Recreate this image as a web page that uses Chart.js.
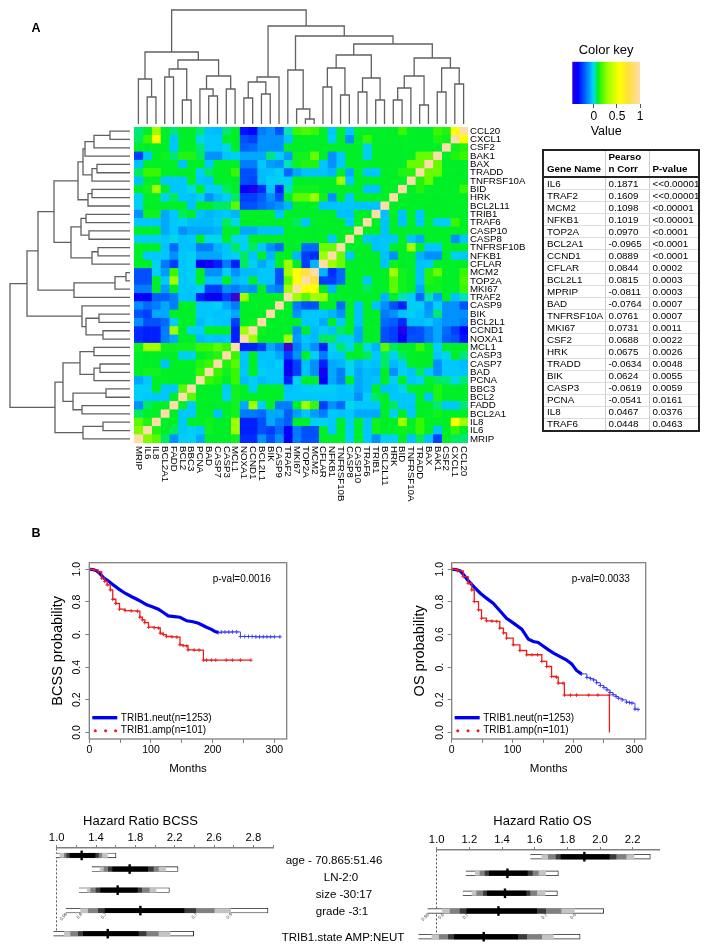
<!DOCTYPE html>
<html>
<head>
<meta charset="utf-8">
<title>TRIB1 correlation and survival</title>
<script src="https://cdn.jsdelivr.net/npm/chart.js@4/dist/chart.umd.js"></script>
<style>
  html, body { margin: 0; padding: 0; background: #fff; }
  #page { position: relative; width: 710px; height: 952px; overflow: hidden; font-family: "Liberation Sans", Arial, sans-serif; color: #000; filter: blur(0.35px); }
  #page canvas { position: absolute; }
  .txt { position: absolute; white-space: nowrap; transform: translate(-50%, -50%); }
  #genes { position: absolute; left: 542px; top: 149px; width: 158px; height: 283px; border-collapse: collapse; border: 2px solid #222; font-size: 9.8px; table-layout: fixed; }
  #genes th { font-weight: bold; text-align: left; vertical-align: bottom; height: 24px; padding: 0 0 1px 3px; line-height: 12px; border-bottom: 2px solid #222; border-right: 1px solid #ccc; }
  #genes td { padding: 0 0 0 3px; line-height: 10px; border-right: 1px solid #ccc; border-bottom: 1px solid #ddd; white-space: nowrap; overflow: hidden; }
  #genes tr:last-child td { border-bottom: none; }
  #genes td:last-child, #genes th:last-child { border-right: none; }
</style>
</head>
<body>
<div id="page"></div>
<script>
// row order, top to bottom. the columns run the other way round
const genes = ["CCL20","CXCL1","CSF2","BAK1","BAX","TRADD","TNFRSF10A","BID","HRK","BCL2L11","TRIB1","TRAF6","CASP10","CASP8","TNFRSF10B","NFKB1","CFLAR","MCM2","TOP2A","MKI67","TRAF2","CASP9","BIK","BCL2L1","CCND1","NOXA1","MCL1","CASP3","CASP7","BAD","PCNA","BBC3","BCL2","FADD","BCL2A1","IL8","IL6","MRIP"];

// correlation x100, upper left triangle of the heatmap (the rest is the mirror)
const corrTri = [
  [5,8,30,8,5,8,8,5,-4,-5,5,8,-32,-35,-15,-12,-22,2,15,18,15,8,-3,8,-3,8,8,8,8,8,15,8,8,8,15,12,55,100],
  [6,15,55,8,-3,8,8,-1,-3,-3,8,8,-22,-25,-12,-12,-12,-4,8,8,8,8,-2,8,-12,8,15,8,8,8,8,8,8,8,12,10,100],
  [8,8,8,8,-3,8,8,5,-3,-3,-1,8,-20,-18,-12,-12,-12,8,8,8,8,8,8,8,8,8,-2,8,8,8,8,8,8,8,8,100],
  [-25,-4,8,10,5,12,12,6,-12,-12,-3,-2,-8,-8,-8,5,-2,-10,10,10,22,8,-12,-3,8,8,-2,8,8,8,8,8,22,22,100],
  [-4,8,8,8,8,-4,8,8,-3,8,8,8,-15,-15,-3,-10,-12,2,10,12,12,-3,-12,-3,8,8,8,8,8,8,8,22,22,100],
  [6,15,15,8,8,8,8,-2,6,8,8,15,-22,-22,-5,-4,-2,-18,-8,-4,-4,-4,-6,8,-8,8,-3,-3,8,8,12,12,100],
  [-4,8,8,-3,-3,-3,8,-3,-4,8,8,8,-22,-24,-5,-2,-2,-2,8,8,8,8,8,30,-3,8,8,8,8,8,8,100],
  [8,10,30,8,-3,-3,-1,8,-2,-2,6,8,-35,-45,-28,-4,-30,2,10,10,10,8,8,8,8,8,-4,-4,8,8,100],
  [-2,8,8,-2,6,-3,-4,-2,-12,-5,-2,6,-25,-25,-20,-12,-22,8,20,20,30,10,-12,8,-3,8,8,8,8,100],
  [-2,8,8,8,8,8,-4,8,8,6,6,20,-22,-22,-18,-15,-12,-6,8,8,8,-4,-4,-3,-3,-4,-4,-4,100],
  [-12,10,10,-8,-3,6,8,-4,-6,-4,-3,-6,8,8,8,8,-4,8,8,8,8,8,8,-4,-4,8,8,100],
  [-3,-3,-3,-8,-3,-2,-5,-5,-5,-3,6,-1,8,8,8,8,8,8,6,-3,8,8,8,8,-3,8,100],
  [8,8,8,-8,-3,-12,-8,-8,-8,-6,8,8,-8,-8,-4,-4,-4,8,8,8,8,8,8,8,8,100],
  [-2,-2,-2,-3,-1,-4,-3,8,-1,-1,8,-1,-2,8,8,8,8,8,8,8,8,8,-3,8,100],
  [8,8,8,-4,-18,-4,-4,-15,-15,-6,-3,6,-2,6,-3,-12,-18,8,8,-18,-18,22,22,100],
  [8,-3,-3,-3,-12,-3,-2,-8,-8,-8,-3,-2,6,-4,8,-6,8,8,-6,-25,-28,30,100],
  [8,8,-2,-15,-25,-3,-2,-35,-42,-30,-15,-30,6,-2,-8,-3,8,30,8,-25,-6,100],
  [-22,-22,-2,-10,15,-3,-2,8,-12,-12,-2,-12,-5,-5,-3,-3,-22,30,55,75,100],
  [-22,-22,8,-3,30,-3,-2,8,-4,-4,8,-5,-3,8,-3,-3,-22,20,55,100],
  [-15,-15,8,-10,8,-3,-3,-2,-25,-25,-12,-15,-10,-12,8,-12,-15,30,100],
  [-35,-35,-20,-20,-15,-3,-4,-30,-40,-38,-25,-55,30,8,8,8,8,100],
  [-12,-18,-15,-8,-15,8,8,-3,-3,-2,-8,-15,8,8,8,8,100],
  [-22,-25,-8,-8,8,8,8,-3,-3,-4,-3,-8,8,8,8,100],
  [-12,-22,-22,-18,-2,8,8,-5,-2,-3,-4,-25,8,10,100],
  [-28,-30,-30,-15,30,8,-2,-2,8,8,8,-30,30,100],
  [-28,-30,-30,-15,-8,8,8,-5,-3,-4,-3,-30,100],
  [10,30,30,10,10,10,10,15,15,20,15,100],
  [8,8,8,8,8,-2,-2,8,10,12,100],
  [8,8,8,-4,8,8,8,12,15,100],
  [8,10,10,8,8,8,8,15,100],
  [-8,-3,8,8,8,8,8,100],
  [-2,-2,8,-3,-3,20,100],
  [-2,-3,-3,-3,8,100],
  [-12,6,8,8,100],
  [6,8,8,100],
  [20,12,100],
  [25,100],
  [100]
];

// same convention as hclust: negative = leaf, positive = earlier merge (1 based)
const topMerge = [[-2,-3],[-1,1],[-4,-5],[-6,-7],[3,4],[-9,-10],[-8,6],[-11,-12],[7,8],[5,9],[2,10],[-13,-14],[-15,-16],[12,13],[14,-17],[-20,-21],[-19,16],[-18,17],[-22,-23],[-24,-25],[19,20],[-26,-27],[-28,-29],[22,23],[21,24],[-30,-31],[-32,26],[-33,-34],[27,28],[-35,-36],[-37,-38],[30,31],[29,32],[25,33],[18,34],[15,35],[11,36]];
const topHeight = [27,45,47,24,55,28,35,35,48,64,72,26,30,42,47,5,15,54,37,29,56,32,24,46,69,24,36,19,48,32,40,56,66,80,88,98,114];
const leftMerge = [[-1,-2],[1,-3],[2,-4],[-5,-6],[4,-7],[3,5],[-8,-9],[7,-10],[6,8],[-11,-12],[-13,-14],[10,11],[-15,-16],[13,-17],[12,14],[9,15],[-18,-19],[17,-20],[18,-21],[16,19],[-23,-24],[-25,-26],[21,22],[-22,23],[20,24],[-27,-28],[-29,-30],[27,-31],[26,28],[-32,-33],[-34,-35],[30,31],[29,32],[-36,-37],[34,-38],[33,35],[25,36]];
const leftHeight = [20,36,45,33,38,47,38,42,52,44,41,49,32,38,59,76,4,15,56,92,31,27,44,48,103,36,30,36,50,24,48,57,67,27,47,75,120];

// colour key, value -> colour
const keyValues = [-0.55,-0.35,-0.22,-0.12,-0.03,0,0.05,0.08,0.15,0.3,0.55,0.75,1];
const keyColors = ["#4000d0","#0000ff","#0050ff","#0090ff","#00c8ff","#00e0e0","#00e878","#00f028","#38f800","#a0ff00","#ffff00","#ffe040","#ffdca8"];
const keyTicks = [0,0.5,1];

// table
const tableGenes = ["IL6","TRAF2","MCM2","NFKB1","TOP2A","BCL2A1","CCND1","CFLAR","BCL2L1","MPRIP","BAD","TNFRSF10A","MKI67","CSF2","HRK","TRADD","BIK","CASP3","PCNA","IL8","TRAF6"];
const tablePearson = ["0.1871","0.1609","0.1098","0.1019","0.0970","-0.0965","0.0889","0.0844","0.0815","-0.0811","-0.0764","0.0761","0.0731","0.0688","0.0675","-0.0634","0.0624","-0.0619","-0.0541","0.0467","0.0448"];
const tablePValue = ["<<0.00001","<<0.00001","<0.00001","<0.00001","<0.0001","<0.0001","<0.0001","0.0002","0.0003","0.0003","0.0007","0.0007","0.0011","0.0022","0.0026","0.0048","0.0055","0.0059","0.0161","0.0376","0.0463"];

// survival curves
const kmMonthTicks = [0,50,100,150,200,250,300];
const kmProbTicks = [0,0.2,0.4,0.6,0.8,1];
const bcssProbLabels = ["0.0","0.2","0.4","0.","0.8","1.0"];
const osProbLabels = ["0.0","0.2","0.","0.6","0.8","1.0"];

const bcssNeutMonths = [0,6,12,18,24,32,39,48,58,68,77,85,93,102,112,120,128,138,147,158,168,177,190,198,204,209];
const bcssNeutProb = [1,0.998,0.99,0.97,0.945,0.925,0.904,0.878,0.853,0.833,0.816,0.8,0.782,0.77,0.755,0.735,0.714,0.71,0.706,0.684,0.678,0.669,0.645,0.632,0.618,0.612];
const bcssTailMonths = [209,214,220,226,232,239,245,252,258,264,270,276,282,288,294,300,309];
const bcssTailProb = [0.612,0.615,0.615,0.615,0.616,0.616,0.588,0.588,0.588,0.588,0.586,0.586,0.586,0.586,0.586,0.586,0.586];
const bcssAmpMonths = [0,8,15,20,25,29,34,38,43,49,58,68,78,82,86,90,96,105,112,115,120,125,134,142,147,152,158,160,170,178,185,190,198,205,222,232,245,262];
const bcssAmpProb = [1,0.995,0.985,0.945,0.925,0.904,0.873,0.816,0.79,0.755,0.747,0.745,0.743,0.706,0.69,0.673,0.645,0.642,0.64,0.608,0.6,0.588,0.586,0.584,0.537,0.532,0.53,0.506,0.505,0.505,0.443,0.443,0.443,0.443,0.443,0.443,0.443,0.443];

const osNeutMonths = [0,7,14,20,27,37,47,57,68,78,90,102,115,121,126,134,142,150,159,168,178,188,197,205,213];
const osNeutProb = [1,0.998,0.99,0.965,0.93,0.89,0.853,0.823,0.792,0.75,0.7,0.668,0.633,0.6,0.571,0.557,0.551,0.53,0.506,0.485,0.465,0.445,0.42,0.38,0.359];
const osTailMonths = [213,222,228,233,238,244,250,255,260,265,270,274,280,287,292,296,301,306];
const osTailProb = [0.359,0.337,0.33,0.322,0.305,0.288,0.275,0.261,0.245,0.231,0.22,0.21,0.2,0.186,0.183,0.18,0.143,0.141];
const osAmpMonths = [0,10,19,27,33,37,44,49,57,66,74,79,85,90,101,112,123,132,141,148,156,164,172,175,183,185,195,205,225,240,259,259];
const osAmpProb = [1,0.99,0.955,0.914,0.873,0.802,0.751,0.7,0.684,0.682,0.68,0.639,0.61,0.578,0.537,0.502,0.476,0.476,0.476,0.435,0.404,0.343,0.339,0.302,0.302,0.229,0.229,0.229,0.229,0.229,0.229,0];

// hazard ratio rows: [0.99 low, 0.95 low, 0.9 low, 0.8 low, 0.7 low, estimate, 0.7 high, 0.8 high, 0.9 high, 0.95 high, 0.99 high]
const hrRowNames = ["age - 70.865:51.46","LN-2:0","size -30:17","grade -3:1","TRIB1.state AMP:NEUT"];
const hrBcss = [
  [0.99,1.034,1.078,1.102,1.136,1.254,1.39,1.424,1.458,1.515,1.603],
  [1.356,1.441,1.481,1.525,1.569,1.742,1.925,1.983,2.034,2.108,2.234],
  [1.227,1.312,1.346,1.4,1.447,1.62,1.82,1.864,1.942,2.01,2.146],
  [1.092,1.244,1.322,1.424,1.492,1.851,2.295,2.414,2.603,2.769,3.149],
  [0.966,1.078,1.142,1.22,1.271,1.519,1.831,1.908,2.034,2.153,2.393]
];
const hrOs = [
  [1.573,1.643,1.684,1.731,1.761,1.904,2.057,2.098,2.159,2.208,2.308],
  [1.178,1.237,1.265,1.296,1.322,1.433,1.555,1.586,1.622,1.667,1.745],
  [1.159,1.216,1.245,1.286,1.31,1.418,1.547,1.571,1.612,1.663,1.739],
  [0.943,1.035,1.082,1.143,1.184,1.378,1.612,1.667,1.761,1.843,2.022],
  [0.888,0.971,1.016,1.071,1.108,1.288,1.496,1.551,1.643,1.714,1.878]
];
const hrBcssTicks = [1,1.2,1.4,1.6,1.8,2,2.2,2.4,2.6,2.8,3,3.2];
const hrBcssLabels = ["1.0","","1.4","","1.8","","2.2","","2.6","","2.8",""];
const hrOsTicks = [1,1.2,1.4,1.6,1.8,2,2.2];
const hrOsLabels = ["1.0","1.2","1.4","1.6","1.8","2.0","2.2"];
const hrGradeTiny = ["0.99","0.9","0.7","0.7","0.9"];

// ---- layout only from here on
const FONT = '"Liberation Sans", Arial, sans-serif';
Chart.defaults.font.family = FONT;
Chart.defaults.color = '#000';
Chart.defaults.animation = false;
Chart.defaults.plugins.legend.display = false;
Chart.defaults.plugins.tooltip.enabled = false;

const page = document.getElementById('page');

function addCanvas(x, y, w, h) {
  const c = document.createElement('canvas');
  c.width = w; c.height = h;
  c.style.left = x + 'px'; c.style.top = y + 'px';
  c.style.width = w + 'px'; c.style.height = h + 'px';
  page.appendChild(c);
  return c;
}

function addText(str, x, y, size, bold) {
  const d = document.createElement('div');
  d.className = 'txt';
  d.textContent = str;
  d.style.left = x + 'px'; d.style.top = y + 'px';
  d.style.fontSize = size + 'px';
  if (bold) d.style.fontWeight = 'bold';
  page.appendChild(d);
}

function corrAt(r, c) {
  const last = genes.length - 1;
  return (c <= last - r ? corrTri[r][c] : corrTri[last - c][last - r]) / 100;
}

function hexRgb(h) {
  return [parseInt(h.slice(1,3),16), parseInt(h.slice(3,5),16), parseInt(h.slice(5,7),16)];
}

function colorFor(v) {
  let i = 0;
  while (i < keyValues.length - 2 && v > keyValues[i + 1]) i++;
  const t = Math.max(0, Math.min(1, (v - keyValues[i]) / (keyValues[i + 1] - keyValues[i])));
  const a = hexRgb(keyColors[i]), b = hexRgb(keyColors[i + 1]);
  return 'rgb(' + a.map((p, k) => Math.round(p + (b[k] - p) * t)).join(',') + ')';
}

// keep the plot area exactly where asked, labels may hang over its edges
function noMargins(s) {
  s.paddingTop = 0; s.paddingBottom = 0; s.paddingLeft = 0; s.paddingRight = 0;
}

// heatmap: one stacked bar dataset per column
const colLabels = genes.slice().reverse();
const xLabelsPlugin = {
  id: 'xLabels',
  afterDraw(chart) {
    const ctx = chart.ctx, s = chart.scales.x;
    ctx.save();
    ctx.font = '9.7px ' + FONT;
    ctx.fillStyle = '#000';
    ctx.textBaseline = 'middle';
    colLabels.forEach((name, c) => {
      ctx.save();
      ctx.translate(s.getPixelForValue(c + 0.5), chart.chartArea.bottom + 3);
      ctx.rotate(Math.PI / 2);
      ctx.fillText(name, 0, 0);
      ctx.restore();
    });
    ctx.restore();
  }
};
new Chart(addCanvas(134, 127, 406, 398), {
  type: 'bar',
  plugins: [xLabelsPlugin],
  data: {
    labels: genes,
    datasets: colLabels.map((name, c) => ({
      label: name,
      data: genes.map(() => 1),
      backgroundColor: genes.map((g, r) => colorFor(corrAt(r, c))),
      borderWidth: 0,
      barPercentage: 1,
      categoryPercentage: 1
    }))
  },
  options: {
    indexAxis: 'y',
    responsive: false,
    layout: { padding: { bottom: 82 } },
    scales: {
      x: { stacked: true, min: 0, max: 38, display: false },
      y: {
        stacked: true, position: 'right',
        afterFit(s) { s.width = 72; noMargins(s); },
        grid: { display: false, drawTicks: false }, border: { display: false },
        ticks: { autoSkip: false, padding: 2, font: { size: 9.7 } }
      }
    }
  }
});

// dendrograms
function dendroSegments(merge, height) {
  const pos = [], base = [], pts = [];
  merge.forEach((m, i) => {
    const p = m.map(k => k < 0 ? -k - 0.5 : pos[k - 1]);
    const b = m.map(k => k < 0 ? 0 : base[k - 1]);
    pos[i] = (p[0] + p[1]) / 2;
    base[i] = height[i];
    pts.push({ p: p[0], h: b[0] }, { p: p[0], h: height[i] }, { p: p[1], h: height[i] }, { p: p[1], h: b[1] }, { p: NaN, h: NaN });
  });
  return pts;
}

function dendroChart(canvas, pts, horizontal, scales) {
  return new Chart(canvas, {
    type: 'scatter',
    data: {
      datasets: [{
        data: pts.map(q => horizontal ? { x: q.h, y: q.p } : { x: q.p, y: q.h }),
        showLine: true, spanGaps: false, pointRadius: 0,
        borderColor: '#606060', borderWidth: 1.3, clip: false
      }]
    },
    options: { responsive: false, scales: scales }
  });
}

dendroChart(addCanvas(134, 9, 334, 115), dendroSegments(topMerge, topHeight), false, {
  x: { display: false, min: 0, max: 38 },
  y: { display: false, min: 0, max: 115 }
});
dendroChart(addCanvas(0, 127, 130, 316), dendroSegments(leftMerge, leftHeight), true, {
  x: { display: false, min: 0, max: 130, reverse: true },
  y: { display: false, min: 0, max: 38, reverse: true }
});

// colour key
new Chart(addCanvas(545, 40, 125, 100), {
  type: 'bar',
  data: {
    labels: ['key'],
    datasets: [{
      data: [[-0.47, 1]],
      barPercentage: 1, categoryPercentage: 1, borderWidth: 0,
      backgroundColor(ctx) {
        const ch = ctx.chart, s = ch.scales.x;
        if (!s || !ch.chartArea) return '#000';
        const a = s.getPixelForValue(-0.47), b = s.getPixelForValue(1);
        const g = ch.ctx.createLinearGradient(a, 0, b, 0);
        keyValues.forEach((v, i) => {
          if (v >= -0.47) g.addColorStop((v + 0.47) / 1.47, keyColors[i]);
        });
        g.addColorStop(0, colorFor(-0.47));
        return g;
      }
    }]
  },
  options: {
    indexAxis: 'y',
    responsive: false,
    layout: { padding: { left: 27.3, right: 30 } },
    plugins: { title: { display: true, text: 'Color key', font: { size: 13, weight: 'normal' }, color: '#000', padding: { top: 2.5, bottom: 3.6 } } },
    scales: {
      y: { display: false },
      x: {
        min: -0.47, max: 1,
        afterBuildTicks(s) { s.ticks = keyTicks.map(v => ({ value: v })); },
        afterFit(s) { s.height = 36; noMargins(s); },
        grid: { drawOnChartArea: false, tickLength: 4, tickColor: '#555' },
        border: { display: false },
        ticks: { font: { size: 12 }, padding: 1, autoSkip: false, maxRotation: 0, callback: v => String(v) },
        title: { display: true, text: 'Value', font: { size: 12.5 }, padding: { top: 0, bottom: 1 } }
      }
    }
  }
});

// survival panels
const kmNotes = {
  id: 'kmNotes',
  afterDraw(chart, args, opts) {
    const ctx = chart.ctx, a = chart.chartArea;
    ctx.save();
    ctx.strokeStyle = '#808080';
    ctx.lineWidth = 1.3;
    ctx.strokeRect(a.left, a.top, a.right - a.left, a.bottom - a.top);
    ctx.strokeStyle = '#0000f0';
    ctx.lineWidth = 3.4;
    ctx.beginPath();
    ctx.moveTo(a.left + 3, a.bottom - 21.3);
    ctx.lineTo(a.left + 28, a.bottom - 21.3);
    ctx.stroke();
    ctx.fillStyle = '#f01818';
    [6, 16.3, 26.3].forEach(dx => {
      ctx.beginPath();
      ctx.arc(a.left + dx, a.bottom - 8.3, 1.5, 0, Math.PI * 2);
      ctx.fill();
    });
    ctx.fillStyle = '#000';
    ctx.font = '10px ' + FONT;
    ctx.textBaseline = 'middle';
    ctx.fillText(opts.neut, a.left + 31.5, a.bottom - 21);
    ctx.fillText(opts.amp, a.left + 31.5, a.bottom - 8.3);
    ctx.fillText(opts.pval, a.left + opts.pvalX, a.top + 16.3);
    ctx.restore();
  }
};

const toXY = (xs, ys) => xs.map((x, i) => ({ x: x, y: ys[i] }));

function kmChart(canvas, cfg) {
  return new Chart(canvas, {
    type: 'scatter',
    plugins: [kmNotes],
    data: {
      datasets: [
        { data: toXY(cfg.ampM, cfg.ampP), showLine: true, stepped: true, borderColor: '#ee1c1c', borderWidth: 1.3, pointStyle: 'cross', pointRadius: c => c.raw && c.raw.y === 0 ? 0 : 1.8, pointBorderColor: '#ee1c1c', pointBorderWidth: 0.9 },
        { data: toXY(cfg.neutM, cfg.neutP), showLine: true, borderColor: '#0000f0', borderWidth: 3.2, pointRadius: 0 },
        { data: toXY(cfg.tailM, cfg.tailP), showLine: true, stepped: true, borderColor: '#3838f0', borderWidth: 0.9, pointStyle: 'cross', pointRadius: 2, pointBorderColor: '#3838f0', pointBorderWidth: 0.9 }
      ]
    },
    options: {
      responsive: false,
      layout: { padding: cfg.padding },
      plugins: { kmNotes: { neut: 'TRIB1.neut(n=1253)', amp: 'TRIB1.amp(n=101)', pval: cfg.pval, pvalX: cfg.pvalX } },
      scales: {
        x: {
          min: 0, max: cfg.maxM,
          afterBuildTicks(s) { s.ticks = kmMonthTicks.map(v => ({ value: v })); },
          afterFit(s) { s.height = 41; noMargins(s); },
          grid: { drawOnChartArea: false, tickLength: 4, tickColor: '#808080' },
          border: { display: false },
          ticks: { autoSkip: false, maxRotation: 0, padding: 1, font: { size: 10.5 }, callback: v => v % 100 === 0 ? String(v) : '' },
          title: { display: true, text: 'Months', font: { size: 11.5 }, padding: { top: 2, bottom: 4 } }
        },
        y: {
          min: -0.04, max: 1.04,
          afterBuildTicks(s) { s.ticks = kmProbTicks.map(v => ({ value: v })); },
          afterFit(s) { s.width = cfg.padLeft; noMargins(s); },
          grid: { drawOnChartArea: false, tickLength: 4, tickColor: '#808080' },
          border: { display: false },
          ticks: { autoSkip: false, minRotation: 90, maxRotation: 90, crossAlign: 'center', padding: 0.5, font: { size: 10.5 }, callback: (v, i) => cfg.probLabels[i] },
          title: { display: true, text: cfg.yTitle, font: { size: 14.5 }, padding: { top: 4.5, bottom: 0 } }
        }
      }
    }
  });
}

kmChart(addCanvas(45, 555, 250, 225), {
  ampM: bcssAmpMonths, ampP: bcssAmpProb, neutM: bcssNeutMonths, neutP: bcssNeutProb, tailM: bcssTailMonths, tailP: bcssTailProb,
  maxM: 320, probLabels: bcssProbLabels, yTitle: 'BCSS probability', pval: 'p-val=0.0016', pvalX: 123.4,
  padLeft: 44.3, padding: { top: 7.7, right: 8.3 }
});
kmChart(addCanvas(407, 555, 245, 225), {
  ampM: osAmpMonths, ampP: osAmpProb, neutM: osNeutMonths, neutP: osNeutProb, tailM: osTailMonths, tailP: osTailProb,
  maxM: 318.6, probLabels: osProbLabels, yTitle: 'OS probability', pval: 'p-val=0.0033', pvalX: 120,
  padLeft: 44.7, padding: { top: 7.7, right: 6.3 }
});

// hazard ratio panels
const hrTiny = {
  id: 'hrTiny',
  afterDraw(chart, args, opts) {
    const ctx = chart.ctx, sx = chart.scales.x, sy = chart.scales.y;
    ctx.save();
    ctx.font = '4.5px ' + FONT;
    ctx.fillStyle = '#444';
    ctx.textAlign = 'right';
    ctx.textBaseline = 'middle';
    [0, 1, 4, 7, 9].forEach((k, i) => {
      ctx.save();
      ctx.translate(sx.getPixelForValue(opts.row[k]) + 1, sy.getPixelForValue(opts.rowPos) + 3);
      ctx.rotate(-Math.PI / 4);
      ctx.fillText(hrGradeTiny[i], 0, 0);
      ctx.restore();
    });
    ctx.restore();
  }
};

const hrShades = ['#000000', '#3a3a3a', '#808080', '#c4c4c4', '#ffffff'];

function hrChart(canvas, cfg) {
  const nested = hrShades.map((shade, lvl) => ({
    type: 'bar',
    data: cfg.rows.map((row, i) => ({ x: [row[4 - lvl], row[6 + lvl]], y: cfg.rowPos[i] })),
    backgroundColor: shade,
    borderColor: '#222',
    borderWidth: lvl === 4 ? 0.9 : 0,
    barThickness: lvl === 4 ? 4.8 : 4.2,
    grouped: false,
    clip: false
  }));
  const estimate = {
    type: 'scatter',
    data: cfg.rows.map((row, i) => ({ x: row[5], y: cfg.rowPos[i] })),
    pointStyle: 'line', pointRotation: 90, pointRadius: 4.8,
    pointBorderColor: '#000', pointBorderWidth: 2.4,
    showLine: false, clip: false
  };
  return new Chart(canvas, {
    type: 'bar',
    plugins: [hrTiny],
    data: { datasets: [estimate].concat(nested) },
    options: {
      indexAxis: 'y',
      responsive: false,
      layout: { padding: cfg.padding },
      plugins: { hrTiny: { row: cfg.rows[3], rowPos: cfg.rowPos[3] } },
      scales: {
        x: {
          type: 'linear', position: 'top', min: 1, max: cfg.maxHr,
          afterBuildTicks(s) { s.ticks = cfg.ticks.map(v => ({ value: v })); },
          afterFit(s) { s.height = 20; noMargins(s); },
          grid: {
            lineWidth: 1,
            color: c => c.tick && c.tick.value === 1 ? '#555' : 'rgba(0,0,0,0)',
            tickColor: '#808080', tickLength: 3
          },
          border: { color: '#808080', width: 1.4, dash: [2, 2] },
          ticks: { autoSkip: false, maxRotation: 0, padding: 0, font: { size: 11.3 }, callback: (v, i) => cfg.labels[i] }
        },
        y: { type: 'linear', display: false, offset: false, min: 0, max: cfg.maxRow, reverse: true }
      }
    }
  });
}

// row centres in px below the axis line
hrChart(addCanvas(10, 828, 285, 122), {
  rows: hrBcss, rowPos: [7.4, 21, 42, 62.4, 85.4], maxRow: 88.2, maxHr: 3.2,
  ticks: hrBcssTicks, labels: hrBcssLabels,
  padding: { left: 46.7, right: 22 , bottom: 13.5 }
});
hrChart(addCanvas(385, 830, 300, 120), {
  rows: hrOs, rowPos: [6.7, 23.3, 43.3, 61, 86.7], maxRow: 85, maxHr: 2.363,
  ticks: hrOsTicks, labels: hrOsLabels,
  padding: { left: 51.7, right: 25.7, bottom: 15 }
});

// plain text
addText('A', 36, 28, 12.5, true);
addText('B', 36, 533, 12.5, true);
addText('Hazard Ratio BCSS', 140.5, 820, 13);
addText('Hazard Ratio OS', 542.5, 820, 13);
const hrLabelX = [334, 341, 344, 342, 343];
const hrLabelY = [860, 877, 893.7, 911, 936.7];
hrRowNames.forEach((name, i) => addText(name, hrLabelX[i], hrLabelY[i], 11.5));

// gene table
const tbl = document.createElement('table');
tbl.id = 'genes';
tbl.innerHTML = '<colgroup><col style="width:62px"><col style="width:44px"><col></colgroup>' +
  '<tr><th>Gene Name</th><th>Pearso<br>n Corr</th><th>P-value</th></tr>' +
  tableGenes.map((g, i) => '<tr><td>' + g + '</td><td>' + tablePearson[i] + '</td><td>' + tablePValue[i].replace(/</g, '&lt;') + '</td></tr>').join('');
page.appendChild(tbl);
</script>
</body>
</html>
